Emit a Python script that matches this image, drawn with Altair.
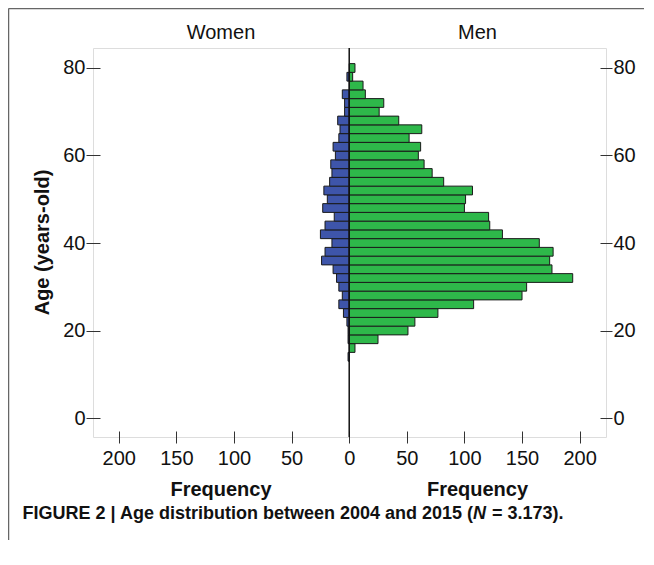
import altair as alt
import pandas as pd

# ---- data (2-year age bins, centred on even ages) ----
ages = list(range(14, 82, 2))
women = [1, 0, 1, 1, 2, 5, 9, 6, 9, 11, 14, 24, 21, 15, 25, 21, 13, 23, 19, 22,
         17, 15, 16, 12, 14, 9, 8, 10, 4, 4, 6, 0, 2, 0]
men = [0, 5, 25, 51, 57, 77, 108, 150, 154, 194, 176, 174, 177, 165, 133, 122, 121,
       100, 101, 107, 82, 72, 65, 60, 62, 52, 63, 43, 26, 30, 14, 12, 3, 5]
sexes = ["Women", "Men"]
colors = ["#3E55AA", "#2EB84A"]
x_ticks = [-200, -150, -100, -50, 0, 50, 100, 150, 200]
y_ticks = [0, 20, 40, 60, 80]

rows = []
for a, w, m in zip(ages, women, men):
    if w > 0:
        rows.append({"sex": "Women", "age": a, "lo": a - 1, "hi": a + 1, "x0": 0, "x1": -w, "n": w})
    if m > 0:
        rows.append({"sex": "Men", "age": a, "lo": a - 1, "hi": a + 1, "x0": 0, "x1": m, "n": m})
df = pd.DataFrame(rows)

W, H = 513, 389
FONT = "Liberation Sans"

xscale = alt.Scale(domain=[-222.4, 222.9], nice=False, zero=False)
yscale = alt.Scale(domain=[-4.34, 84.57], nice=False, zero=False)

bars = alt.Chart(df).mark_bar(stroke="#1a1a1a", strokeWidth=1).encode(
    x=alt.X("x1:Q", scale=xscale,
            axis=alt.Axis(values=x_ticks, labelExpr="abs(datum.value)", title=None,
                          domain=False, grid=False, tickSize=12, offset=-6,
                          labelPadding=5, tickColor="#333", labelFont=FONT,
                          labelFontSize=20, labelColor="#111")),
    x2="x0:Q",
    y=alt.Y("lo:Q", scale=yscale,
            axis=alt.Axis(values=y_ticks, title=None, orient="left", domain=False,
                          grid=False, tickSize=14, offset=-7, labelPadding=1,
                          tickColor="#333", labelFont=FONT, labelFontSize=20,
                          labelColor="#111")),
    y2="hi:Q",
    color=alt.Color("sex:N", scale=alt.Scale(domain=sexes, range=colors), legend=None),
)

right_axis = alt.Chart(df).mark_point(opacity=0).encode(
    y=alt.Y("age:Q", scale=yscale,
            axis=alt.Axis(values=y_ticks, title=None, orient="right", domain=False,
                          grid=False, tickSize=12, offset=-6, labelPadding=1,
                          tickColor="#333", labelFont=FONT, labelFontSize=20,
                          labelColor="#111")),
)

one = pd.DataFrame({"k": [0]})

center = alt.Chart(one).mark_rule(color="#111", strokeWidth=1.5).encode(
    x=alt.datum(0, scale=xscale), y=alt.value(0), y2=alt.value(H)
)


def label(text, x, y, size=20, weight="normal", style="normal", align="center", angle=0):
    return alt.Chart(one).mark_text(
        font=FONT, fontSize=size, fontWeight=weight, fontStyle=style, align=align,
        baseline="middle", angle=angle, color="#111"
    ).encode(x=alt.value(x), y=alt.value(y), text=alt.value(text))


texts = [
    label("Women", 128, -15),
    label("Men", 384.5, -15),
    label("Frequency", 128, 442, weight="bold"),
    label("Frequency", 384.5, 442, weight="bold"),
    label("Age (years-old)", -50, 194.5, weight="bold", angle=270),
    label("FIGURE 2 | Age distribution between 2004 and 2015 (", 380, 466, size=18,
          weight="bold", align="right"),
    label("N", 380, 466, size=18, weight="bold", style="italic", align="left"),
    label("= 3.173).", 399, 466, size=18, weight="bold", align="left"),
]

frame_top = alt.Chart(one).mark_rule(color="#666", strokeWidth=1.5).encode(
    x=alt.value(-84.5), x2=alt.value(551), y=alt.value(-39.5)
)
frame_left = alt.Chart(one).mark_rule(color="#666", strokeWidth=1.5).encode(
    x=alt.value(-84.5), y=alt.value(-39.5), y2=alt.value(492)
)

chart = alt.layer(
    bars, right_axis, center, frame_top, frame_left, *texts
).resolve_axis(y="independent").properties(
    width=W, height=H,
    autosize=alt.AutoSizeParams(type="none"),
    padding={"left": 85, "top": 40, "right": 38, "bottom": 118},
).configure_view(stroke="#444", strokeWidth=1.2).configure(background="white")

chart.save("out.html", embed_options={"renderer": "svg", "actions": False})
